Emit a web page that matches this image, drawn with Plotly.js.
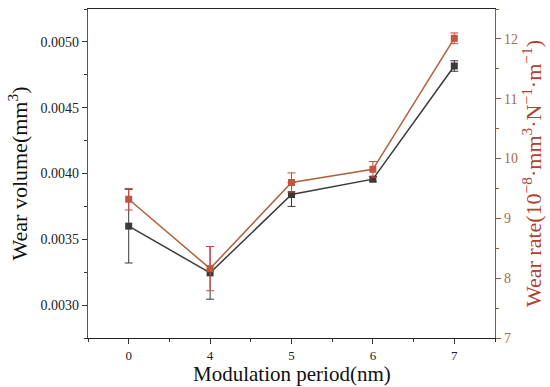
<!DOCTYPE html>
<html>
<head>
<meta charset="utf-8">
<script src="https://cdn.plot.ly/plotly-3.0.1.min.js"></script>
<style>html,body{margin:0;padding:0;background:#fff;}#chart{width:550px;height:387px;}</style>
</head>
<body>
<div id="chart"></div>
<script>
const periods = ['0', '4', '5', '6', '7'];
const wearVolume = [0.00360, 0.003245, 0.00384, 0.003957, 0.004817];
const wearVolumeErr = [0.00028, 0.00020, 0.00009, 0.00002, 0.00004];
const wearRate = [9.32, 8.16, 9.60, 9.82, 12.01];
const wearRateErr = [0.18, 0.37, 0.16, 0.13, 0.09];

const xIdx = periods.map((p, i) => i);
const serif = 'Liberation Serif';

const traces = [
  {
    x: xIdx, y: wearVolume, type: 'scatter', mode: 'lines+markers',
    line: {color: '#3a3a3a', width: 1.5},
    marker: {symbol: 'square', size: 7, color: '#3a3a3a'},
    error_y: {type: 'data', array: wearVolumeErr, visible: true, color: '#3a3a3a', thickness: 1, width: 4},
    yaxis: 'y', showlegend: false
  },
  {
    x: xIdx, y: wearRate, type: 'scatter', mode: 'lines+markers',
    line: {color: '#b0603a', width: 1.5},
    marker: {symbol: 'square', size: 7, color: '#c0563c'},
    error_y: {type: 'data', array: wearRateErr, visible: true, color: '#d04545', thickness: 1, width: 4},
    yaxis: 'y2', showlegend: false
  }
];

const layout = {
  width: 550, height: 387,
  margin: {l: 88, r: 55, t: 9, b: 49},
  paper_bgcolor: '#fff', plot_bgcolor: '#fff',
  font: {family: serif, color: '#222', size: 14},
  xaxis: {
    range: [-0.5, 4.5],
    tickmode: 'array', tickvals: xIdx, ticktext: periods,
    ticks: 'outside', ticklen: 5, tickwidth: 1, tickcolor: '#333',
    minor: {tickmode: 'linear', tick0: -0.5, dtick: 1, ticks: 'outside', ticklen: 3, tickcolor: '#333'},
    showline: true, linecolor: '#222', linewidth: 1.2, mirror: true,
    showgrid: false, zeroline: false,
    tickfont: {family: serif, size: 13, color: '#222'}
  },
  yaxis: {
    range: [0.00275, 0.00525],
    dtick: 0.0005, tick0: 0.003, tickformat: '.4f',
    ticks: 'outside', ticklen: 5, tickwidth: 1, tickcolor: '#333',
    minor: {dtick: 0.00025, ticks: 'outside', ticklen: 3, tickcolor: '#333'},
    showline: true, linecolor: '#555', linewidth: 1.2,
    showgrid: false, zeroline: false,
    tickfont: {family: serif, size: 14, color: '#222'},
    title: {text: 'Wear volume(mm<sup>3</sup>)', font: {family: serif, size: 22, color: '#111'}, standoff: 6}
  },
  yaxis2: {
    overlaying: 'y', side: 'right',
    range: [7, 12.5], dtick: 1, tick0: 7,
    ticks: 'outside', ticklen: 5, tickwidth: 1, tickcolor: '#a0522d',
    minor: {dtick: 0.5, ticks: 'outside', ticklen: 3, tickcolor: '#a0522d'},
    showline: true, linecolor: '#a0522d', linewidth: 1.2,
    showgrid: false, zeroline: false,
    tickfont: {family: serif, size: 14, color: '#a86a4a'},
    title: {text: 'Wear rate(10<sup>\u22128</sup>\u00b7mm<sup>3</sup>\u00b7N<sup>\u22121</sup>\u00b7m<sup>\u22121</sup>)', font: {family: serif, size: 22, color: '#b2402e'}, standoff: 5}
  },
  annotations: [{
    text: 'Modulation period(nm)', xref: 'paper', yref: 'paper',
    x: 0.5, y: -0.108, xanchor: 'center', yanchor: 'middle', showarrow: false,
    font: {family: serif, size: 21, color: '#111'}
  }]
};

Plotly.newPlot('chart', traces, layout, {displayModeBar: false, staticPlot: true});
</script>
</body>
</html>
